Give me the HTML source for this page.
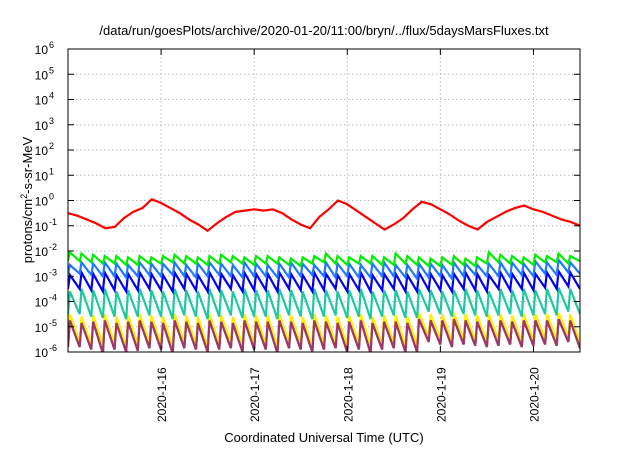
<!DOCTYPE html>
<html><head><meta charset="utf-8"><style>
body{margin:0;background:#fff;font-family:"Liberation Sans",sans-serif}
svg text{font-family:"Liberation Sans",sans-serif;fill:#000}
</style></head><body>
<svg id="c" width="640" height="448" xmlns="http://www.w3.org/2000/svg">
<text x="324" y="35" font-size="13" text-anchor="middle">/data/run/goesPlots/archive/2020-01-20/11:00/bryn/../flux/5daysMarsFluxes.txt</text>
<text x="324" y="442" font-size="13" text-anchor="middle">Coordinated Universal Time (UTC)</text>
<text transform="translate(32,200) rotate(-90)" font-size="13" text-anchor="middle">protons/cm<tspan dy="-5" font-size="9">2</tspan><tspan dy="5">-s-sr-MeV</tspan></text>
<g id="grid"></g><g id="series"></g><g id="axes"></g>
</svg>
<script>
const xTicks=[16,17,18,19,20];
const xTickLabels=["2020-1-16","2020-1-17","2020-1-18","2020-1-19","2020-1-20"];
const yTickExps=[-6,-5,-4,-3,-2,-1,0,1,2,3,4,5,6];
const redTimes=[15.0,15.1,15.2,15.3,15.4,15.5,15.6,15.7,15.8,15.9,16.0,16.1,16.2,16.3,16.4,16.5,16.6,16.7,16.8,16.9,17.0,17.1,17.2,17.3,17.4,17.5,17.6,17.7,17.8,17.9,18.0,18.1,18.2,18.3,18.4,18.5,18.6,18.7,18.8,18.9,19.0,19.1,19.2,19.3,19.4,19.5,19.6,19.7,19.8,19.9,20.0,20.1,20.2,20.3,20.4,20.5];
const redLog=[-0.5,-0.6,-0.75,-0.9,-1.1,-1.05,-0.7,-0.45,-0.3,0.05,-0.1,-0.3,-0.5,-0.75,-0.95,-1.2,-0.9,-0.65,-0.45,-0.4,-0.35,-0.4,-0.35,-0.5,-0.75,-0.95,-1.1,-0.65,-0.35,0.0,-0.15,-0.4,-0.65,-0.9,-1.15,-0.95,-0.7,-0.35,-0.05,-0.15,-0.35,-0.55,-0.8,-1.0,-1.15,-0.85,-0.65,-0.45,-0.3,-0.2,-0.35,-0.45,-0.6,-0.75,-0.85,-1.0];
const toothStart=15.0, toothStep=0.125;
const greenPeak=[-2.05,-2.1,-2.15,-2.2,-2.2,-2.25,-2.2,-2.25,-2.2,-2.15,-2.2,-2.25,-2.2,-2.15,-2.2,-2.25,-2.2,-2.2,-2.25,-2.3,-2.25,-2.2,-2.1,-2.2,-2.25,-2.2,-2.2,-2.25,-2.1,-2.2,-2.25,-2.3,-2.25,-2.2,-2.3,-2.25,-2.05,-2.15,-2.2,-2.25,-2.15,-2.2,-2.1,-2.2];
const greenTrough=[-2.4,-2.45,-2.5,-2.5,-2.55,-2.55,-2.5,-2.5,-2.45,-2.5,-2.5,-2.55,-2.5,-2.45,-2.5,-2.55,-2.5,-2.5,-2.55,-2.6,-2.5,-2.45,-2.5,-2.55,-2.5,-2.5,-2.55,-2.55,-2.5,-2.55,-2.6,-2.6,-2.55,-2.55,-2.6,-2.5,-2.45,-2.5,-2.5,-2.55,-2.45,-2.45,-2.5,-2.4];
const lblueTrough=[-2.9,-2.95,-3.0,-3.0,-3.05,-3.0,-2.95,-3.0,-2.95,-3.0,-3.05,-3.0,-2.95,-3.0,-3.05,-3.0,-3.0,-3.05,-3.05,-3.0,-2.95,-3.0,-3.05,-3.0,-3.05,-3.05,-3.0,-3.0,-3.05,-3.1,-3.05,-3.0,-3.1,-3.0,-2.95,-3.0,-3.0,-3.05,-2.95,-3.0,-2.9,-2.95,-2.85,-2.9];
const lbluePeak=[-2.55,-2.45,-2.5,-2.45,-2.5,-2.55,-2.45,-2.5,-2.5,-2.45,-2.55,-2.5,-2.45,-2.5,-2.55,-2.45,-2.5,-2.55,-2.5,-2.45,-2.5,-2.55,-2.45,-2.5,-2.5,-2.55,-2.5,-2.45,-2.55,-2.55,-2.5,-2.5,-2.55,-2.45,-2.5,-2.55,-2.5,-2.45,-2.45,-2.5,-2.4,-2.45,-2.35,-2.45];
const bluePeak=[-2.95,-2.85,-2.9,-2.85,-2.95,-2.9,-2.85,-2.9,-2.95,-2.85,-2.9,-2.95,-2.85,-2.9,-2.95,-2.85,-2.9,-2.9,-2.85,-2.9,-2.95,-2.85,-2.9,-2.95,-2.9,-2.85,-2.95,-2.9,-2.9,-2.95,-2.85,-2.9,-2.95,-2.9,-2.85,-2.9,-2.95,-2.85,-2.9,-2.85,-2.9,-2.85,-2.8,-2.85];
const blueTrough=[-3.5,-3.55,-3.6,-3.55,-3.6,-3.55,-3.5,-3.55,-3.6,-3.5,-3.55,-3.6,-3.55,-3.5,-3.6,-3.55,-3.55,-3.6,-3.5,-3.55,-3.6,-3.55,-3.5,-3.6,-3.55,-3.6,-3.55,-3.5,-3.6,-3.6,-3.55,-3.55,-3.6,-3.5,-3.55,-3.6,-3.5,-3.55,-3.5,-3.55,-3.45,-3.5,-3.4,-3.5];
const tealPeak=[-3.6,-3.5,-3.55,-3.5,-3.6,-3.55,-3.5,-3.55,-3.6,-3.5,-3.55,-3.6,-3.5,-3.55,-3.6,-3.5,-3.55,-3.55,-3.5,-3.55,-3.6,-3.5,-3.55,-3.6,-3.55,-3.5,-3.6,-3.55,-3.55,-3.6,-3.5,-3.55,-3.6,-3.55,-3.5,-3.55,-3.6,-3.5,-3.55,-3.5,-3.55,-3.5,-3.45,-3.5];
const tealTrough=[-4.5,-4.6,-4.65,-4.6,-4.7,-4.6,-4.55,-4.6,-4.7,-4.55,-4.6,-4.7,-4.6,-4.55,-4.65,-4.6,-4.6,-4.7,-4.55,-4.6,-4.7,-4.6,-4.55,-4.65,-4.6,-4.7,-4.6,-4.55,-4.65,-4.65,-4.4,-4.5,-4.6,-4.5,-4.55,-4.6,-4.55,-4.5,-4.6,-4.55,-4.5,-4.55,-4.4,-4.5];
const yellowPeak=[-4.5,-4.6,-4.55,-4.5,-4.6,-4.55,-4.5,-4.55,-4.6,-4.5,-4.55,-4.6,-4.5,-4.55,-4.6,-4.5,-4.55,-4.55,-4.5,-4.55,-4.6,-4.5,-4.55,-4.6,-4.55,-4.5,-4.6,-4.55,-4.55,-4.6,-4.45,-4.5,-4.5,-4.45,-4.5,-4.55,-4.5,-4.5,-4.55,-4.5,-4.5,-4.5,-4.45,-4.5];
const yellowTrough=[-5.6,-5.7,-5.75,-5.7,-5.8,-5.7,-5.65,-5.7,-5.8,-5.65,-5.7,-5.8,-5.7,-5.65,-5.75,-5.7,-5.7,-5.8,-5.65,-5.7,-5.8,-5.7,-5.65,-5.75,-5.7,-5.8,-5.7,-5.65,-5.75,-5.75,-5.4,-5.5,-5.6,-5.5,-5.55,-5.6,-5.55,-5.5,-5.6,-5.55,-5.5,-5.55,-5.4,-5.6];
const purplePeak=[-4.75,-4.85,-4.8,-4.75,-4.85,-4.8,-4.75,-4.8,-4.85,-4.75,-4.8,-4.85,-4.75,-4.8,-4.85,-4.75,-4.8,-4.8,-4.75,-4.8,-4.85,-4.75,-4.8,-4.85,-4.8,-4.75,-4.85,-4.8,-4.8,-4.85,-4.7,-4.75,-4.75,-4.7,-4.75,-4.8,-4.75,-4.75,-4.8,-4.75,-4.75,-4.75,-4.7,-4.75];
const purpleTrough=[-5.8,-5.9,-6.05,-5.9,-6.0,-5.95,-5.85,-5.9,-6.05,-5.85,-5.9,-6.0,-5.9,-5.85,-6.0,-5.9,-5.9,-6.05,-5.85,-5.9,-6.0,-5.9,-5.85,-6.0,-5.9,-6.05,-5.9,-5.85,-6.0,-6.0,-5.6,-5.7,-5.8,-5.7,-5.75,-5.8,-5.75,-5.7,-5.8,-5.75,-5.7,-5.75,-5.6,-5.85];

const L=68,R=580,T=49,B=352,X0=15.0,X1=20.5,Y0=-6,Y1=6;
const sx=t=>L+(t-X0)/(X1-X0)*(R-L);
const sy=e=>B-(e-Y0)/(Y1-Y0)*(B-T);
const NS="http://www.w3.org/2000/svg";
const svg=document.getElementById('c');
function mk(tag,attrs,parent){const e=document.createElementNS(NS,tag);for(const k in attrs)e.setAttribute(k,attrs[k]);parent.appendChild(e);return e;}
const grid=document.getElementById('grid'),axes=document.getElementById('axes'),ser=document.getElementById('series');
const clip=mk('clipPath',{id:'pc'},svg);mk('rect',{x:L,y:T,width:R-L,height:B-T},clip);
ser.setAttribute('clip-path','url(#pc)');
yTickExps.forEach(e=>{
  const y=sy(e);
  if(e>Y0&&e<Y1){const g=mk('line',{x1:L,x2:R,y1:y,y2:y,stroke:'#bbb','stroke-dasharray':'1.5,2.5'},grid);
  
  }
  mk('line',{x1:L,x2:L+6,y1:y,y2:y,stroke:'#000'},axes);
  mk('line',{x1:R,x2:R-6,y1:y,y2:y,stroke:'#000'},axes);
  const t=mk('text',{x:L-20,y:y+5,'font-size':'12','text-anchor':'end'},axes);
  
  
  t.textContent='10';
  const s=mk('tspan',{dy:'-6','font-size':'9','x':L-19,'text-anchor':'start'},t);s.textContent=String(e);
});
xTicks.forEach((d,i)=>{
  const x=sx(d);
  const g=mk('line',{x1:x,x2:x,y1:T,y2:B,stroke:'#bbb','stroke-dasharray':'1.5,2.5'},grid);
  
  
  mk('line',{x1:x,x2:x,y1:B,y2:B-6,stroke:'#000'},axes);
  mk('line',{x1:x,x2:x,y1:T,y2:T+6,stroke:'#000'},axes);
  const t=mk('text',{transform:`translate(${x+5},${B+70}) rotate(-90)`,'font-size':'12'},axes);
  
  
  t.textContent=xTickLabels[i];
});
const frame=mk('rect',{x:L,y:T,width:R-L,height:B-T,fill:'none',stroke:'#000'},axes);


function saw(peak,trough,color,name){
  let pts=[];
  for(let i=0;i<peak.length;i++){
    const t=toothStart+i*toothStep;
    const prev=i===0?trough[0]:trough[i-1];
    pts.push([sx(t),sy(prev)]);pts.push([sx(t+0.02),sy(peak[i])]);
  }
  pts.push([sx(toothStart+peak.length*toothStep),sy(trough[trough.length-1])]);
  const p=mk('polyline',{points:pts.map(p=>p.join(',')).join(' '),fill:'none',stroke:color,'stroke-width':2.2,'stroke-linejoin':'miter'},ser);
  
  
}
saw(purplePeak,purpleTrough,'#9b3a6a','series-purple');
saw(yellowPeak,yellowTrough,'#ffee00','series-yellow');
saw(purplePeak.map((v,i)=>v),purpleTrough,'#9b3a6a','series-purple-overlay');
saw(tealPeak,tealTrough,'#1fc8a0','series-teal');
saw(bluePeak,blueTrough,'#0000ee','series-blue');
saw(lbluePeak,lblueTrough,'#1f78ff','series-light-blue');
saw(greenPeak,greenTrough,'#00ee00','series-green');
const rp=mk('polyline',{points:redTimes.map((t,i)=>sx(t)+','+sy(redLog[i])).join(' '),fill:'none',stroke:'#ff0000','stroke-width':2.2},ser);


</script>
</body></html>
